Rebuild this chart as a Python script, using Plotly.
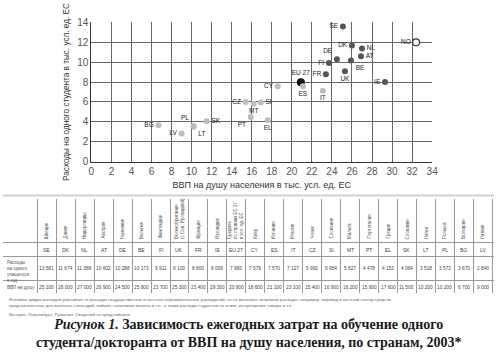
import plotly.graph_objects as go

# ---------------- data ----------------
codes = ["SE", "DK", "NL", "AT", "DE", "BE", "FI", "UK", "FR", "IE", "EU 27",
         "CY", "ES", "IT", "CZ", "SI", "MT", "PT", "EL", "SK", "LT", "PL", "BG", "LV"]
names = ["Швеция", "Дания", "Нидерланды", "Австрия", "Германия", "Бельгия", "Финляндия",
         "Великобритания<br>(с Сев. Ирландией)", "Франция", "Ирландия",
         "Среднее<br>по странам ЕС 27<br>в усл. ед. ЕС",
         "Кипр", "Испания", "Италия", "Чехия", "Словения", "Мальта", "Португалия",
         "Греция", "Словакия", "Литва", "Польша", "Болгария", "Латвия"]
spend = [13581, 11674, 11388, 10602, 10288, 10173, 9911, 9100, 8800, 8009, 7983,
         7579, 7570, 7127, 5992, 5954, 5827, 4478, 4153, 4064, 3518, 3572, 3670, 2840]
gdp = [25100, 26000, 27000, 26900, 24500, 25900, 23700, 25300, 23400, 29300, 20900,
       18600, 21100, 23100, 15400, 16900, 16200, 15900, 17600, 11500, 10200, 10200, 6700, 9000]
group = ["high"] * 10 + ["eu"] + ["low"] * 13
label_pos = ["middle left", "middle left", "middle right", "middle right", "top left",
             "bottom right", "middle left", "bottom center", "middle left", "middle left",
             "top center", "middle left", "bottom center", "bottom center", "middle left",
             "middle right", "bottom center", "bottom left", "bottom center", "middle right",
             "bottom right", "top left", "middle left", "middle left"]
no_code = "NO"
no_gdp = 32.4
no_spend = 12.0

row_labels = ["Расходы<br>на одного<br>учащегося<br>в год", "ВВП на душу"]
footnote1 = ("Итоговая цифра расходов учитывает те расходы государственных и частных образовательных учреждений, "
             "но не включает непрямые расходы, например  перевод в частный сектор средств,<br>"
             "предназначенных для выплаты стипендий, займов, налоговые вычеты и т.п., а также расходы студентов "
             "на книги, канцелярские товары и т.п.")
footnote2 = "Венгрия, <i>Люксембург</i>, Румыния. Сведений не представлено."
caption = ("<b><i>Рисунок 1.</i> Зависимость ежегодных затрат на обучение одного<br>"
           "студента/докторанта от ВВП на душу населения, по странам, 2003*</b>")

def fmt(v):
    return f"{v:,}".replace(",", " ")

W, H = 500, 360
def py(p):  # pixel row -> paper y
    return 1 - p / H

fig = go.Figure()

styles = {
    "high": dict(color="#555555", size=6),
    "eu": dict(color="#111111", size=8),
    "low": dict(color="#bdbdbd", size=6),
}
lab_font = dict(size=6.5, color="#222", family="Liberation Sans")
for g, st in styles.items():
    idx = [i for i, gg in enumerate(group) if gg == g]
    fig.add_trace(go.Scatter(
        x=[gdp[i] / 1000 for i in idx], y=[spend[i] / 1000 for i in idx],
        mode="markers+text", text=[codes[i] for i in idx],
        textposition=[label_pos[i] for i in idx], textfont=lab_font,
        marker=dict(color=st["color"], size=st["size"], line=dict(width=0)),
        showlegend=False, hoverinfo="skip", cliponaxis=False))

fig.add_trace(go.Scatter(
    x=[no_gdp], y=[no_spend], mode="markers+text", text=[no_code],
    textposition="middle left", textfont=lab_font,
    marker=dict(color="white", size=7, line=dict(color="#333", width=1.2)),
    showlegend=False, hoverinfo="skip", cliponaxis=False))

# ---------------- table (on second axes) ----------------
n = len(codes)
fig.add_trace(go.Scatter(x=[0], y=[0], xaxis="x2", yaxis="y2", mode="markers",
                         marker=dict(opacity=0), showlegend=False, hoverinfo="skip"))

tf = dict(size=4.5, color="#555", family="Liberation Sans")
nf = dict(size=4.8, color="#444", family="Liberation Sans")
ann = []
for i in range(n):
    ann.append(dict(x=i, y=43, xref="x2", yref="y2", text=names[i], textangle=-90,
                    showarrow=False, xanchor="center", yanchor="bottom", font=tf, align="left"))
    ann.append(dict(x=i, y=52, xref="x2", yref="y2", text=codes[i], showarrow=False,
                    font=dict(size=5, color="#444", family="Liberation Sans")))
    ann.append(dict(x=i, y=72, xref="x2", yref="y2", text=fmt(spend[i]), showarrow=False, font=nf))
    ann.append(dict(x=i, y=91, xref="x2", yref="y2", text=fmt(gdp[i]), showarrow=False, font=nf))
ann.append(dict(x=-2.2, y=61, xref="x2", yref="y2", text=row_labels[0], showarrow=False,
                xanchor="left", yanchor="top", align="left", font=tf))
ann.append(dict(x=-2.2, y=91, xref="x2", yref="y2", text=row_labels[1], showarrow=False,
                xanchor="left", yanchor="middle", align="left", font=tf))
ann.append(dict(x=4 / W, y=py(299), xref="paper", yref="paper", text=footnote1, showarrow=False,
                xanchor="left", yanchor="top", align="left",
                font=dict(size=4.3, color="#666", family="Liberation Sans")))
ann.append(dict(x=4 / W, y=py(314), xref="paper", yref="paper", text=footnote2, showarrow=False,
                xanchor="left", yanchor="top", align="left",
                font=dict(size=4.3, color="#666", family="Liberation Sans")))
ann.append(dict(x=0.5, y=py(339), xref="paper", yref="paper", text=caption, showarrow=False,
                xanchor="center", yanchor="middle", align="center",
                font=dict(size=14, color="#1a1a1a", family="Liberation Serif")))

x2_grid = [-2.29] + [i - 0.5 for i in range(n + 1)]

fig.update_layout(
    width=W, height=H, margin=dict(l=0, r=0, t=0, b=0),
    paper_bgcolor="white", plot_bgcolor="white",
    font=dict(family="Liberation Sans", color="#444"),
    xaxis=dict(domain=[90 / W, 437 / W], range=[0, 34], dtick=2, tick0=0,
               showgrid=True, gridcolor="#666", gridwidth=1, zeroline=False,
               showline=True, linecolor="#333", linewidth=1,
               ticks="", tickfont=dict(size=10, color="#555"),
               title=dict(text="ВВП на душу населения в тыс. усл. ед. ЕС",
                          font=dict(size=9, color="#333"), standoff=6),
               anchor="y"),
    yaxis=dict(domain=[py(161), py(17)], range=[0, 14], dtick=2, tick0=0,
               showgrid=True, gridcolor="#666", gridwidth=1, zeroline=False,
               showline=True, linecolor="#333", linewidth=1,
               ticks="", tickfont=dict(size=10, color="#555"),
               title=dict(text="Расходы на одного студента в тыс. усл. ед. ЕС",
                          font=dict(size=8.2, color="#333"), standoff=6),
               anchor="x"),
    xaxis2=dict(domain=[0, 1], range=[-2.31, 23.59], anchor="y2",
                tickmode="array", tickvals=x2_grid, showticklabels=False,
                showgrid=True, gridcolor="#999", gridwidth=0.8, zeroline=False, ticks=""),
    yaxis2=dict(domain=[py(297), py(200)], range=[97, 0], anchor="x2",
                tickmode="array", tickvals=[0, 45, 59, 84, 97], showticklabels=False,
                showgrid=True, gridcolor="#999", gridwidth=0.8, zeroline=False, ticks=""),
    annotations=ann,
    shapes=[dict(type="line", xref="paper", yref="paper", x0=0, x1=1,
                 y0=py(196), y1=py(196), line=dict(color="#d0d0d0", width=2))],
)

fig.write_html("out.html", config={"displayModeBar": False},
               post_script="document.body.style.margin='0';document.body.style.overflow='hidden';")
